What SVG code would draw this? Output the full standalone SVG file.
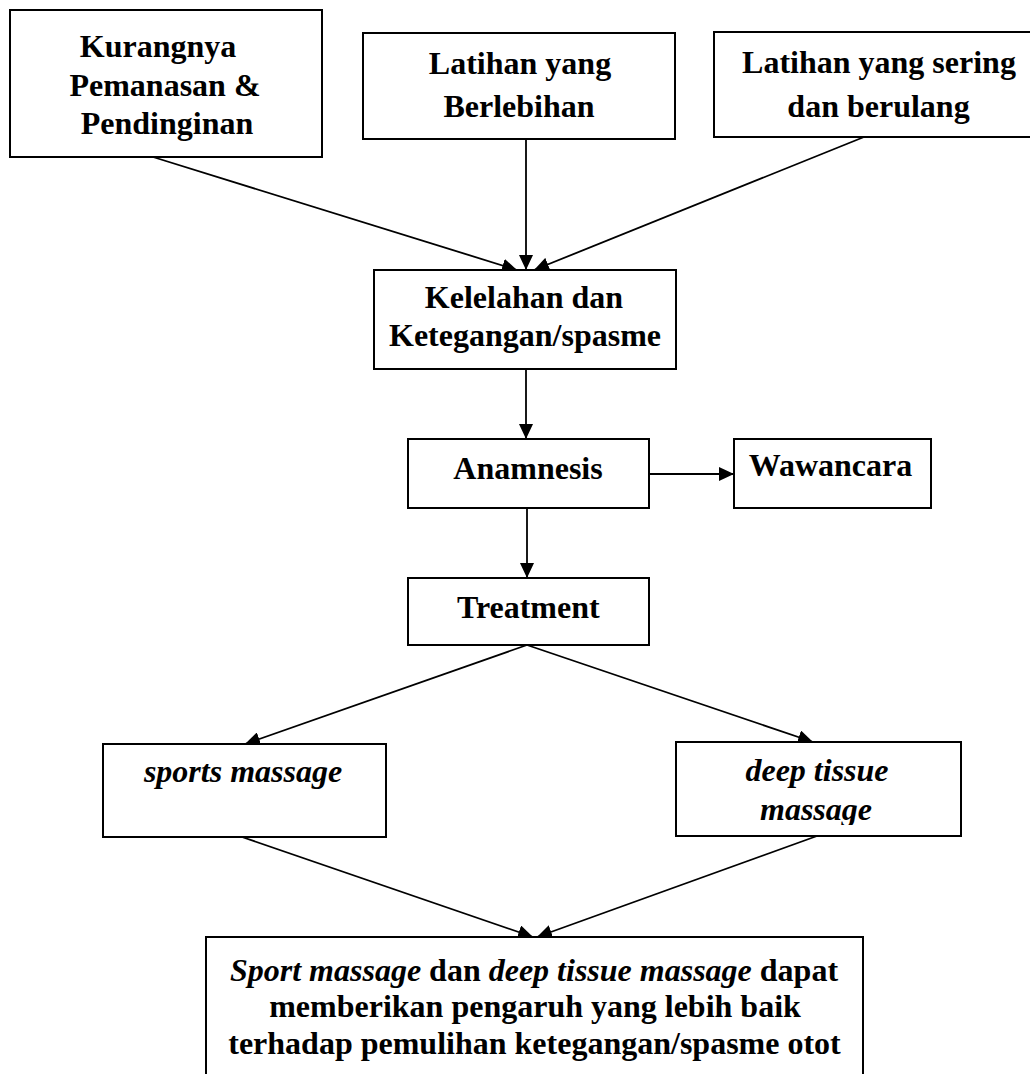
<svg xmlns="http://www.w3.org/2000/svg" width="1030" height="1074" viewBox="0 0 1030 1074">
<style>
  .box { fill: #fff; stroke: #000; stroke-width: 2; }
  .t { font-family: "Liberation Serif", "Times New Roman", serif; font-size: 32px; font-weight: bold; fill: #000; text-anchor: middle; }
  .it { font-style: italic; font-weight: bold; }
  .c line { stroke: #000; stroke-width: 1.8; marker-end: url(#ah); }
</style>
<defs>
  <marker id="ah" markerUnits="userSpaceOnUse" markerWidth="15" markerHeight="14" refX="15" refY="7" orient="auto">
    <path d="M0,0 L15,7 L0,14 z" fill="#000"/>
  </marker>
  <clipPath id="clipDeep"><rect x="676" y="742" width="285" height="83"/></clipPath>
</defs>
<rect width="1030" height="1074" fill="#fff"/>

<g class="c" id="connectors">
  <line x1="153" y1="157" x2="517" y2="270"/>
  <line x1="526" y1="139" x2="526" y2="270"/>
  <line x1="864" y1="137" x2="534" y2="270"/>
  <line x1="526" y1="369" x2="526" y2="439"/>
  <line x1="649" y1="474" x2="734" y2="474"/>
  <line x1="527" y1="508" x2="527" y2="578"/>
  <line x1="527" y1="645" x2="245" y2="744"/>
  <line x1="527" y1="645" x2="813" y2="742"/>
  <line x1="242" y1="837" x2="533" y2="937"/>
  <line x1="817" y1="836" x2="537" y2="937"/>
</g>

<g id="kurangnya">
  <rect class="box" x="10" y="10" width="312" height="147"/>
  <text class="t" x="158" y="57">Kurangnya</text>
  <text class="t" x="165" y="95.5">Pemanasan &amp;</text>
  <text class="t" x="167" y="134">Pendinginan</text>
</g>

<g id="berlebihan">
  <rect class="box" x="363" y="33" width="312" height="106"/>
  <text class="t" x="520" y="74">Latihan yang</text>
  <text class="t" x="519" y="117">Berlebihan</text>
</g>

<g id="sering">
  <rect class="box" x="714" y="32" width="330" height="105"/>
  <text class="t" x="879" y="73">Latihan yang sering</text>
  <text class="t" x="878.5" y="116.5">dan berulang</text>
</g>

<g id="kelelahan">
  <rect class="box" x="374" y="270" width="302" height="99"/>
  <text class="t" x="524" y="308">Kelelahan dan</text>
  <text class="t" x="525" y="346">Ketegangan/spasme</text>
</g>

<g id="anamnesis">
  <rect class="box" x="408" y="439" width="241" height="69"/>
  <text class="t" x="528" y="479">Anamnesis</text>
</g>

<g id="wawancara">
  <rect class="box" x="734" y="439" width="197" height="69"/>
  <text class="t" x="830.5" y="476">Wawancara</text>
</g>

<g id="treatment">
  <rect class="box" x="408" y="578" width="241" height="67"/>
  <text class="t" x="528.3" y="618.3">Treatment</text>
</g>

<g id="sports">
  <rect class="box" x="103" y="744" width="283" height="93"/>
  <text class="t it" x="243" y="782">sports massage</text>
</g>

<g id="deep">
  <rect class="box" x="676" y="742" width="285" height="94"/>
  <g clip-path="url(#clipDeep)">
    <text class="t it" x="817" y="781">deep tissue</text>
    <text class="t it" x="816" y="820">massage</text>
  </g>
</g>

<g id="kesimpulan">
  <rect class="box" x="206" y="937" width="657" height="150"/>
  <text class="t" x="534" y="981"><tspan class="it">Sport massage</tspan> dan <tspan class="it">deep tissue massage</tspan> dapat</text>
  <text class="t" x="535" y="1017">memberikan pengaruh yang lebih baik</text>
  <text class="t" x="534.5" y="1053.5">terhadap pemulihan ketegangan/spasme otot</text>
</g>
</svg>
